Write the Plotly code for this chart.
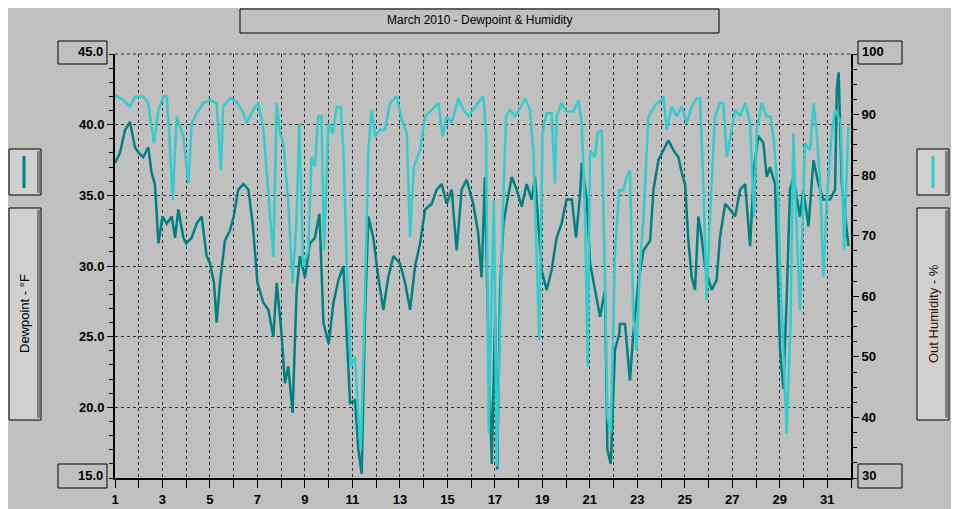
import plotly.graph_objects as go

dp_day = [1.00,1.21,1.42,1.63,1.84,2.00,2.19,2.40,2.54,2.68,2.83,3.00,3.18,3.39,3.53,3.67,3.88,4.00,4.23,4.44,4.65,4.86,5.00,5.17,5.28,5.42,5.63,5.84,6.00,6.19,6.41,6.62,6.80,7.00,7.25,7.46,7.67,7.81,8.00,8.16,8.30,8.48,8.65,8.79,9.00,9.21,9.42,9.61,9.78,10.00,10.20,10.41,10.62,10.79,10.90,11.11,11.25,11.39,
          11.53,11.67,11.88,12.09,12.30,12.51,12.72,13.00,13.22,13.43,13.64,13.85,14.06,14.34,14.55,14.76,14.97,15.18,15.39,15.60,15.81,16.09,16.30,16.44,16.58,16.73,16.87,17.01,17.10,17.22,17.36,17.50,17.71,17.92,18.13,18.34,18.55,18.69,18.83,18.97,19.18,19.39,19.60,19.81,20.02,20.24,20.42,20.59,20.66,20.87,21.01,21.22,21.43,21.64,21.74,21.88,22.06,22.24,
          22.27,22.48,22.69,22.83,23.04,23.26,23.54,23.68,23.89,24.10,24.31,24.52,24.73,24.87,25.01,25.15,25.29,25.43,25.57,25.71,25.85,26.13,26.34,26.48,26.70,26.91,27.12,27.33,27.54,27.75,27.92,28.10,28.31,28.45,28.59,28.80,29.01,29.15,29.29,29.43,29.57,29.71,29.85,29.99,30.21,30.42,30.63,30.84,31.12,31.33,31.40,31.48,31.61,31.75,31.89]
dewpoint = [37.3,38.0,39.6,40.2,38.4,38.0,37.7,38.4,36.6,35.8,31.6,33.5,33.0,33.5,32.0,34.0,32.0,31.6,32.0,33.0,33.5,30.7,30.2,28.8,26.0,28.8,31.8,32.5,33.5,35.4,35.8,35.4,33.0,28.8,27.4,26.9,25.0,28.8,25.5,21.7,22.9,19.6,28.3,30.7,29.2,31.6,32.0,33.7,26.0,24.5,27.4,29.0,30.0,24.0,20.3,20.5,17.0,15.3,
            26.4,33.5,32.0,29.2,26.9,29.2,30.7,30.2,28.8,26.9,30.0,31.6,34.0,34.4,35.4,35.8,34.4,35.4,31.1,35.4,36.1,34.4,32.3,29.2,36.3,24.1,16.0,26.4,15.6,28.3,33.0,34.4,36.3,35.4,34.2,35.8,34.7,36.3,33.0,29.7,28.3,29.7,32.0,33.0,34.7,34.7,32.0,35.1,37.3,34.7,30.2,28.3,26.4,28.3,17.0,16.0,24.1,25.2,
            25.9,25.9,21.9,25.2,28.8,31.1,31.8,35.4,37.5,38.2,38.9,38.2,37.7,36.6,35.8,31.8,29.2,28.3,33.5,32.0,30.0,28.3,29.0,32.0,34.4,34.0,33.5,35.4,35.8,31.4,37.0,39.2,38.7,36.3,37.0,35.8,24.1,21.3,27.6,35.4,36.3,34.9,33.5,35.4,32.8,37.5,35.8,34.7,34.7,35.4,42.5,43.7,35.8,33.7,31.4]

hu_day = [1.00,1.35,1.63,1.84,2.19,2.40,2.54,2.64,2.83,3.04,3.18,3.29,3.43,3.60,3.74,3.88,4.09,4.23,4.44,4.72,5.00,5.28,5.46,5.56,5.84,6.12,6.34,6.55,6.83,7.04,7.25,7.46,7.67,7.81,7.95,8.09,8.30,8.48,8.65,8.76,8.93,9.14,9.28,9.42,9.56,9.70,9.80,9.99,10.17,10.34,10.51,10.62,10.76,10.93,11.11,11.25,11.35,11.49,11.67,
          11.81,11.95,12.16,12.37,12.58,12.86,13.08,13.29,13.43,13.59,13.85,14.06,14.34,14.62,14.80,14.97,15.18,15.46,15.67,15.88,16.16,16.51,16.63,16.74,16.87,16.96,17.08,17.19,17.33,17.47,17.64,17.85,18.06,18.27,18.48,18.62,18.76,18.87,19.01,19.18,19.39,19.53,19.60,19.81,20.02,20.31,20.52,20.66,20.80,20.91,21.01,21.22,21.32,21.50,21.64,21.74,21.88,22.06,22.24,
          22.41,22.55,22.69,22.83,22.97,23.11,23.26,23.47,23.82,24.03,24.10,24.24,24.45,24.66,24.87,25.08,25.29,25.50,25.64,25.78,25.92,26.06,26.27,26.48,26.62,26.77,26.98,27.12,27.33,27.54,27.75,27.92,28.03,28.24,28.45,28.62,28.76,28.94,29.01,29.15,29.29,29.46,29.57,29.69,29.85,30.06,30.28,30.42,30.56,30.70,30.84,30.98,31.19,31.33,31.47,31.57,31.71,31.89]
humidity = [93.2,92.4,91.3,93.0,93.0,91.9,88.0,85.3,90.8,93.0,93.0,86.4,75.9,89.7,88.0,86.4,78.6,88.6,90.2,91.9,92.4,91.9,80.8,91.3,92.7,92.1,90.8,88.6,90.8,91.9,87.5,77.5,66.5,91.9,86.9,85.3,75.3,62.1,73.1,88.6,64.9,67.6,83.0,81.4,89.7,89.7,67.6,88.6,86.9,91.3,91.3,84.1,65.4,48.4,50.0,40.1,34.6,53.9,84.1,
            90.8,86.4,87.5,87.5,91.9,93.0,89.1,86.9,69.8,81.4,84.1,89.7,90.8,91.9,86.4,89.7,88.6,92.7,90.8,89.7,91.3,93.0,86.9,37.4,62.1,75.9,31.9,51.1,73.1,89.7,90.8,89.7,91.0,92.7,90.8,84.1,64.9,52.8,86.9,90.2,90.2,78.6,89.7,91.9,90.5,90.5,92.4,88.6,73.1,48.4,84.1,83.0,86.9,87.5,62.1,40.1,37.4,67.6,77.5,
            77.5,79.7,80.8,56.6,51.1,64.9,73.1,89.7,91.9,92.4,93.0,87.5,91.3,89.7,91.3,88.6,91.3,92.7,92.7,78.6,59.4,73.1,89.7,91.9,91.9,83.0,87.5,90.8,89.7,91.9,88.6,73.1,87.5,91.9,89.7,89.7,85.3,75.9,64.9,51.1,37.4,56.6,86.9,73.1,57.7,85.3,84.1,91.9,86.9,78.6,63.2,75.9,86.9,90.8,89.7,88.6,67.6,88.0,87.5]

x_ticks = list(range(1, 32, 2))
dp_ticks = [20, 25, 30, 35, 40]
hu_ticks = [40, 50, 60, 70, 80, 90]

BG = "#C0C0C0"
GRID = dict(showgrid=True, gridcolor="#303030", griddash="3px,3px", gridwidth=1)
fig = go.Figure()
fig.add_trace(go.Scatter(x=hu_day, y=humidity, yaxis="y2", mode="lines", line=dict(color="#33CCCC", width=2.5), showlegend=False))
fig.add_trace(go.Scatter(x=dp_day, y=dewpoint, mode="lines", line=dict(color="#008080", width=2.5), showlegend=False))

OFF = 8  # page body margin
bold = dict(family="Liberation Sans", size=13, color="black", weight="bold")
fig.update_layout(
    width=959 - OFF, height=509 - OFF, paper_bgcolor=BG, plot_bgcolor=BG,
    margin=dict(l=115 - OFF, r=108, t=54 - OFF, b=31, autoexpand=False),
    xaxis=dict(range=[1, 32], tickvals=x_ticks, ticks="outside", ticklen=8, tickcolor="black",
               minor=dict(dtick=1, ticks="outside", ticklen=8, tickcolor="black", **GRID),
               **GRID, showline=True, linecolor="black", linewidth=2, tickfont=bold, zeroline=False),
    yaxis=dict(range=[15, 45], tickvals=dp_ticks, ticktext=[f"{v:.1f}" for v in dp_ticks], ticks="outside", ticklen=6, tickcolor="black",
               minor=dict(dtick=1, ticks="outside", ticklen=4, tickcolor="black"),
               **GRID, showline=True, linecolor="black", linewidth=2, tickfont=bold, zeroline=False),
    yaxis2=dict(range=[30, 100], overlaying="y", side="right", tickvals=hu_ticks, ticks="outside", ticklen=6, tickcolor="black",
                minor=dict(dtick=2.5, ticks="outside", ticklen=4, tickcolor="black"),
                showgrid=False, showline=True, linecolor="black", linewidth=2, tickfont=bold, zeroline=False),
)

W, H = 736.0, 424.0
def px(x): return (x - 115) / W
def py(y): return (478 - y) / H

shapes = []
def box(x0, y0, x1, y1, fill=None, lw=1):
    shapes.append(dict(type="rect", xref="paper", yref="paper", x0=px(x0), x1=px(x1), y0=py(y1), y1=py(y0),
                       line=dict(color="black", width=lw), fillcolor=fill or "rgba(0,0,0,0)", layer="above"))
shapes.append(dict(type="line", xref="paper", yref="paper", x0=0, x1=1, y0=1, y1=1, line=dict(color="#303030", width=1, dash="3px,3px")))
box(240, 9, 719, 33)
box(58, 41, 107, 64); box(58, 464, 107, 488)
box(858, 41, 902, 64); box(858, 464, 902, 488)
for x0 in (9, 917):
    box(x0, 149, x0 + 32, 195, fill="#D0D0D0")
    box(x0, 208, x0 + 32, 420, fill="#D0D0D0")
    for (a, b) in ((151, 193), (210, 418)):
        shapes.append(dict(type="rect", xref="paper", yref="paper", x0=px(x0 + 28), x1=px(x0 + 31), y0=py(b), y1=py(a),
                           line=dict(width=0), fillcolor="#808080", layer="above"))
shapes.append(dict(type="line", xref="paper", yref="paper", x0=px(24), x1=px(24), y0=py(188), y1=py(156), line=dict(color="#008080", width=3)))
shapes.append(dict(type="line", xref="paper", yref="paper", x0=px(933), x1=px(933), y0=py(188), y1=py(156), line=dict(color="#33CCCC", width=3)))
fig.update_layout(shapes=shapes)

def ann(text, x, y, xanchor="center", angle=0, font=bold):
    fig.add_annotation(text=text, xref="paper", yref="paper", x=px(x), y=py(y), xanchor=xanchor, yanchor="middle",
                       showarrow=False, textangle=angle, font=font)
ann("March 2010 - Dewpoint &amp; Humidity", 479, 20, font=dict(family="Liberation Sans", size=12, color="black"))
ann("45.0", 105, 52, xanchor="right"); ann("15.0", 105, 475, xanchor="right")
ann("100", 860, 52, xanchor="left"); ann("30", 860, 475, xanchor="left")
lab = dict(family="Liberation Sans", size=13, color="black")
ann("Dewpoint - °F", 24, 314, angle=-90, font=lab)
ann("Out Humidity - %", 933, 314, angle=-90, font=dict(family="Liberation Sans", size=13, color="#301000"))

fig.write_html("out.html")
